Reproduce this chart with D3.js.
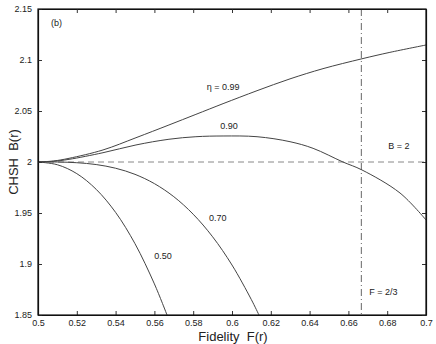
<!DOCTYPE html>
<html>
<head>
<meta charset="utf-8">
<script src="https://cdn.jsdelivr.net/npm/d3@7"></script>
<style>
  body { margin: 0; background: #fff; }
  text { font-family: "Liberation Sans", Arial, sans-serif; fill: #222; }
</style>
</head>
<body>
<div id="chart"></div>
<script>
// values
const fidelity99 = [0.5, 0.508, 0.516, 0.5335, 0.5505, 0.5675, 0.5814, 0.5954, 0.6129, 0.6299, 0.6469, 0.667, 0.6814, 0.7];
const chsh99     = [2.0, 2.001, 2.0036, 2.0118, 2.0238, 2.0363, 2.0467, 2.0572, 2.0699, 2.0815, 2.0915, 2.1012, 2.1075, 2.1147];

const fidelity90 = [0.5, 0.508, 0.516, 0.5335, 0.5505, 0.5675, 0.5814, 0.5954, 0.6129, 0.6299, 0.6418, 0.6572, 0.667, 0.6866, 0.7];
const chsh90     = [2.0, 2.0007, 2.0026, 2.0091, 2.0167, 2.0223, 2.0248, 2.0255, 2.0248, 2.0199, 2.0134, 2.0, 1.9922, 1.9696, 1.9432];

const fidelity70 = [0.5, 0.51, 0.52, 0.53, 0.54, 0.55, 0.56, 0.57, 0.58, 0.59, 0.6, 0.61, 0.6139];
const chsh70     = [2.0, 2.0, 1.9993, 1.9975, 1.9939, 1.9879, 1.9788, 1.966, 1.9488, 1.9267, 1.899, 1.865, 1.85];

const fidelity50 = [0.5, 0.51, 0.52, 0.53, 0.54, 0.55, 0.56, 0.5665];
const chsh50     = [2.0, 1.9973, 1.9886, 1.9732, 1.9506, 1.9199, 1.8805, 1.85];

const xTicks = [0.5, 0.52, 0.54, 0.56, 0.58, 0.6, 0.62, 0.64, 0.66, 0.68, 0.7];
const yTicks = [1.85, 1.9, 1.95, 2, 2.05, 2.1, 2.15];

const curveLabels = [
  { text: "η = 0.99", f: 0.5954, b: 2.0706 },
  { text: "0.90", f: 0.5985, b: 2.0324 },
  { text: "0.70", f: 0.5927, b: 1.9422 },
  { text: "0.50", f: 0.5644, b: 1.9049 }
];

const width = 436, height = 344;
const margin = { top: 9, right: 10, bottom: 29, left: 38 };

const svg = d3.select("#chart").append("svg")
  .attr("width", width)
  .attr("height", height);

const x = d3.scaleLinear().domain([0.5, 0.7]).range([margin.left, width - margin.right]);
const y = d3.scaleLinear().domain([1.85, 2.15]).range([height - margin.bottom, margin.top]);

const fmt = d => String(+d.toFixed(2));

// clip to plot area
svg.append("clipPath").attr("id", "plot")
  .append("rect")
  .attr("x", margin.left).attr("y", margin.top)
  .attr("width", x(0.7) - x(0.5)).attr("height", y(1.85) - y(2.15));

// reference lines
svg.append("line")
  .attr("x1", x(0.5)).attr("x2", x(0.7))
  .attr("y1", y(2)).attr("y2", y(2))
  .attr("stroke", "#888").attr("stroke-width", 1)
  .attr("stroke-dasharray", "6,4");

svg.append("line")
  .attr("x1", x(2 / 3)).attr("x2", x(2 / 3))
  .attr("y1", y(2.15)).attr("y2", y(1.85))
  .attr("stroke", "#555").attr("stroke-width", 0.9)
  .attr("stroke-dasharray", "7,3,1,3");

// curves
const line = d3.line()
  .x(d => x(d[0]))
  .y(d => y(d[1]))
  .curve(d3.curveCatmullRom.alpha(0.5));

const series = [
  [fidelity99, chsh99],
  [fidelity90, chsh90],
  [fidelity70, chsh70],
  [fidelity50, chsh50]
];

svg.append("g").attr("clip-path", "url(#plot)")
  .selectAll("path")
  .data(series)
  .enter()
  .append("path")
  .attr("d", s => line(d3.zip(s[0], s[1])))
  .attr("fill", "none")
  .attr("stroke", "#444")
  .attr("stroke-width", 1);

// axes with inward ticks on all four sides
const tickLen = 4;
svg.append("g")
  .attr("transform", `translate(0,${y(1.85)})`)
  .call(d3.axisBottom(x).tickValues(xTicks).tickSizeInner(-tickLen).tickSizeOuter(0).tickPadding(5).tickFormat(fmt));

svg.append("g")
  .attr("transform", `translate(0,${y(2.15)})`)
  .call(d3.axisTop(x).tickValues(xTicks).tickSizeInner(-tickLen).tickSizeOuter(0).tickFormat(""));

svg.append("g")
  .attr("transform", `translate(${x(0.5)},0)`)
  .call(d3.axisLeft(y).tickValues(yTicks).tickSizeInner(-tickLen).tickSizeOuter(0).tickPadding(6).tickFormat(fmt));

svg.append("g")
  .attr("transform", `translate(${x(0.7)},0)`)
  .call(d3.axisRight(y).tickValues(yTicks).tickSizeInner(-tickLen).tickSizeOuter(0).tickFormat(""));

svg.selectAll(".domain").attr("stroke", "#111").attr("stroke-width", 1.2);
svg.selectAll(".tick line").attr("stroke", "#333");
svg.selectAll(".tick text").style("font-family", "'Liberation Sans', Arial, sans-serif")
  .style("font-size", "9px").attr("fill", "#222");

// frame
svg.append("rect")
  .attr("x", x(0.5)).attr("y", y(2.15))
  .attr("width", x(0.7) - x(0.5)).attr("height", y(1.85) - y(2.15))
  .attr("fill", "none").attr("stroke", "#111").attr("stroke-width", 1.2);

// annotations
svg.selectAll("text.curve-label")
  .data(curveLabels)
  .enter()
  .append("text")
  .attr("class", "curve-label")
  .attr("x", d => x(d.f))
  .attr("y", d => y(d.b))
  .attr("text-anchor", "middle")
  .attr("font-size", 9)
  .text(d => d.text);

svg.append("text")
  .attr("x", x(0.5) + 13).attr("y", y(2.15) + 17)
  .attr("font-size", 9).text("(b)");

svg.append("text")
  .attr("x", x(0.686)).attr("y", y(2.0127))
  .attr("text-anchor", "middle").attr("font-size", 9).text("B = 2");

svg.append("text")
  .attr("x", x(2 / 3) + 8).attr("y", y(1.87))
  .attr("font-size", 9).text("F = 2/3");

// axis titles
svg.append("text")
  .attr("x", (x(0.5) + x(0.7)) / 2 + 1).attr("y", 341)
  .attr("text-anchor", "middle").attr("font-size", 13)
  .text("Fidelity\u00a0\u00a0F(r)");

svg.append("text")
  .attr("transform", `translate(18,${(y(1.85) + y(2.15)) / 2}) rotate(-90)`)
  .attr("text-anchor", "middle").attr("font-size", 13)
  .text("CHSH\u00a0\u00a0B(r)");
</script>
</body>
</html>
